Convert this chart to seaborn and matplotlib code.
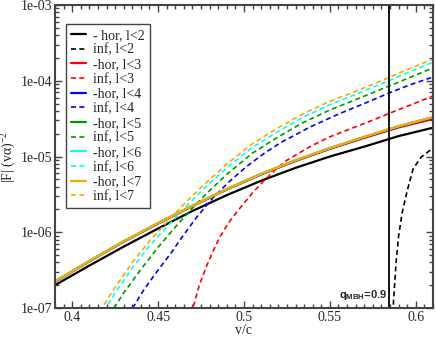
import numpy as np
import pandas as pd
import seaborn as sns
import matplotlib.pyplot as plt
from matplotlib.ticker import MultipleLocator, LogLocator, NullFormatter

sns.set_style("ticks")
plt.rcParams['font.family'] = ['Liberation Serif', 'DejaVu Serif']
plt.rcParams['mathtext.fontset'] = 'custom'
plt.rcParams['mathtext.rm'] = 'Liberation Serif'
plt.rcParams['mathtext.it'] = 'Liberation Serif:italic'
plt.rcParams['mathtext.bf'] = 'Liberation Sans:bold'

# ---- data ----
# "-hor" curves share one v grid
v_hor = [0.39, 0.41, 0.43, 0.45, 0.47, 0.49, 0.51, 0.53, 0.55, 0.57, 0.59, 0.61]
hor_l2 = [2.00e-7, 3.63e-7, 6.46e-7, 1.12e-6, 1.91e-6, 3.09e-6, 4.79e-6, 7.08e-6, 1.00e-5, 1.35e-5, 1.86e-5, 2.40e-5]
hor_l3 = [2.21e-7, 4.12e-7, 7.50e-7, 1.30e-6, 2.21e-6, 3.67e-6, 5.79e-6, 8.71e-6, 1.26e-5, 1.76e-5, 2.42e-5, 3.13e-5]
hor_l4 = [2.23e-7, 4.15e-7, 7.55e-7, 1.31e-6, 2.23e-6, 3.70e-6, 5.85e-6, 8.85e-6, 1.28e-5, 1.80e-5, 2.48e-5, 3.26e-5]
hor_l5 = [2.24e-7, 4.16e-7, 7.58e-7, 1.32e-6, 2.24e-6, 3.71e-6, 5.88e-6, 8.90e-6, 1.29e-5, 1.81e-5, 2.50e-5, 3.30e-5]
hor_l6 = [2.24e-7, 4.17e-7, 7.59e-7, 1.32e-6, 2.24e-6, 3.72e-6, 5.89e-6, 8.91e-6, 1.29e-5, 1.82e-5, 2.51e-5, 3.31e-5]
hor_l7 = [2.24e-7, 4.17e-7, 7.59e-7, 1.32e-6, 2.24e-6, 3.72e-6, 5.89e-6, 8.91e-6, 1.29e-5, 1.82e-5, 2.51e-5, 3.31e-5]

# "inf" curves, each with its own v grid
v_inf_l2 = [0.5862, 0.5868, 0.5875, 0.5885, 0.590, 0.592, 0.595, 0.5985, 0.603, 0.61]
inf_l2 = [3.16e-8, 1.00e-7, 1.78e-7, 3.98e-7, 8.91e-7, 1.78e-6, 3.55e-6, 6.92e-6, 9.77e-6, 1.29e-5]

v_inf_l3 = [0.467, 0.4703, 0.474, 0.478, 0.482, 0.486, 0.4915, 0.4977, 0.5054, 0.5112,
            0.518, 0.5249, 0.5384, 0.55, 0.5636, 0.575, 0.5846, 0.597, 0.61]
inf_l3 = [5.01e-8, 1.00e-7, 2.00e-7, 3.47e-7, 5.62e-7, 8.71e-7, 1.38e-6, 2.09e-6, 3.39e-6, 4.68e-6,
          6.61e-6, 8.91e-6, 1.35e-5, 1.82e-5, 2.40e-5, 3.02e-5, 3.72e-5, 4.79e-5, 6.31e-5]

v_inf_l4 = [0.429, 0.4352, 0.442, 0.450, 0.458, 0.4647, 0.4725, 0.4821, 0.492, 0.5016,
            0.511, 0.521, 0.5384, 0.555, 0.570, 0.5846, 0.597, 0.61]
inf_l4 = [5.01e-8, 1.00e-7, 1.78e-7, 3.16e-7, 5.50e-7, 9.12e-7, 1.58e-6, 2.88e-6, 4.79e-6, 7.41e-6,
          1.07e-5, 1.51e-5, 2.45e-5, 3.63e-5, 5.01e-5, 6.92e-5, 8.91e-5, 1.12e-4]

v_inf_l5 = [0.418, 0.4243, 0.43, 0.44, 0.45, 0.46, 0.47, 0.48, 0.49, 0.505,
            0.52, 0.535, 0.55, 0.565, 0.58, 0.595, 0.61]
inf_l5 = [5.01e-8, 1.00e-7, 1.58e-7, 3.24e-7, 6.31e-7, 1.17e-6, 2.09e-6, 3.55e-6, 5.82e-6, 1.11e-5,
          1.82e-5, 2.85e-5, 4.12e-5, 5.62e-5, 7.76e-5, 1.07e-4, 1.48e-4]

v_inf_l6 = [0.4125, 0.4195, 0.425, 0.435, 0.445, 0.455, 0.465, 0.475, 0.49, 0.505,
            0.52, 0.535, 0.55, 0.565, 0.58, 0.595, 0.61]
inf_l6 = [4.47e-8, 1.00e-7, 1.58e-7, 3.39e-7, 6.61e-7, 1.17e-6, 2.04e-6, 3.47e-6, 7.08e-6, 1.32e-5,
          2.16e-5, 3.35e-5, 4.84e-5, 6.61e-5, 9.12e-5, 1.27e-4, 1.76e-4]

v_inf_l7 = [0.41, 0.4174, 0.425, 0.435, 0.445, 0.455, 0.465, 0.475, 0.49, 0.505,
            0.52, 0.535, 0.55, 0.565, 0.58, 0.595, 0.61]
inf_l7 = [4.47e-8, 1.00e-7, 1.86e-7, 3.98e-7, 7.59e-7, 1.35e-6, 2.34e-6, 3.89e-6, 7.94e-6, 1.48e-5,
          2.40e-5, 3.72e-5, 5.37e-5, 7.24e-5, 1.00e-4, 1.40e-4, 1.93e-4]

v_line = 0.5846
x_ticks = [0.4, 0.45, 0.5, 0.55, 0.6]
x_tick_labels = ['0.4', '0.45', '0.5', '0.55', '0.6']
y_ticks = [1e-7, 1e-6, 1e-5, 1e-4, 1e-3]
y_tick_labels = ['1e-07', '1e-06', '1e-05', '1e-04', '1e-03']

series = [
    (v_hor, hor_l2, 'black', False, '- hor, l<2'),
    (v_inf_l2, inf_l2, 'black', True, 'inf, l<2'),
    (v_hor, hor_l3, '#ff0000', False, '-hor, l<3'),
    (v_inf_l3, inf_l3, '#ff0000', True, 'inf, l<3'),
    (v_hor, hor_l4, '#0000ff', False, '-hor, l<4'),
    (v_inf_l4, inf_l4, '#0000ff', True, 'inf, l<4'),
    (v_hor, hor_l5, '#009a00', False, '-hor, l<5'),
    (v_inf_l5, inf_l5, '#009a00', True, 'inf, l<5'),
    (v_hor, hor_l6, '#00ffff', False, '-hor, l<6'),
    (v_inf_l6, inf_l6, '#00ffff', True, 'inf, l<6'),
    (v_hor, hor_l7, '#ffa500', False, '-hor, l<7'),
    (v_inf_l7, inf_l7, '#ffa500', True, 'inf, l<7'),
]

fig = plt.figure(figsize=(4.36, 3.37), dpi=100)
ax = fig.add_axes([0.1261, 0.0861, 0.867, 0.899])

for v, f, col, dashed, lab in series:
    sns.lineplot(x=v, y=f, ax=ax, color=col, label=lab, sort=False,
                 estimator=None, lw=1.2 if dashed else 1.6)
    if dashed:
        ax.lines[-1].set_dashes((3, 2))

ax.axvline(v_line, color='black', lw=1.3)

ax.set_yscale('log')
ax.set_xlim(0.39, 0.61)
ax.set_ylim(1e-7, 1e-3)
ax.set_xticks(x_ticks, x_tick_labels)
ax.xaxis.set_minor_locator(MultipleLocator(0.005))
ax.set_yticks(y_ticks, y_tick_labels)
ax.yaxis.set_minor_locator(LogLocator(base=10, subs=np.arange(2, 10)))
ax.yaxis.set_minor_formatter(NullFormatter())
ax.tick_params(which='both', direction='in', top=True, right=True,
               color='#444444', labelsize=10)
ax.tick_params(which='major', length=5, width=1, pad=2)
ax.tick_params(which='minor', length=3, width=1)
for sp in ax.spines.values():
    sp.set_color('#444444')
    sp.set_linewidth(1.5)

ax.set_xlabel('v/c', fontsize=10, labelpad=0)
ax.set_ylabel('|F| (vα)$^{-2}$', fontsize=10, labelpad=2)

ax.text(0.5836, 1.5e-7, r'q$_{\mathbf{MBH}}$=0.9', ha='right', va='center',
        fontsize=8, fontweight='bold', family='Liberation Sans')

leg = ax.legend(loc='upper left', bbox_to_anchor=(0.029, 0.937), borderaxespad=0,
                fancybox=False, edgecolor='#444444', framealpha=1, fontsize=10,
                handlelength=1.1, handletextpad=0.5, labelspacing=0.12, borderpad=0.35)
leg.get_frame().set_linewidth(1)

fig.savefig('out.png', dpi=100)
